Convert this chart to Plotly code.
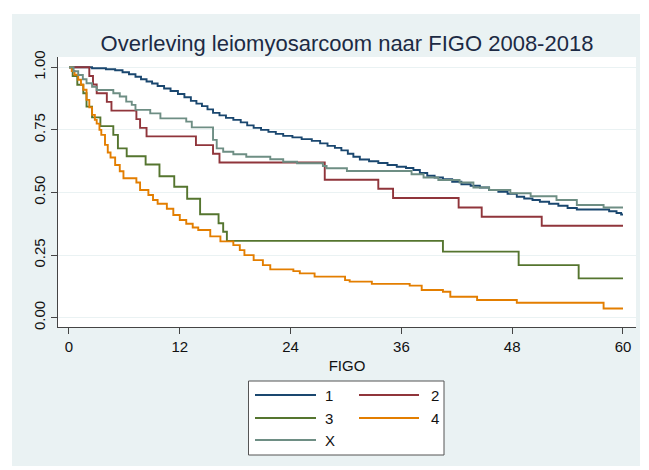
import plotly.graph_objects as go

# ---------------- data (Kaplan-Meier step curves) ----------------
groups = ["1", "2", "3", "4", "X"]
colors = ["#1a476f", "#90353b", "#55752f", "#e37e00", "#6e8e84"]

t_1 = [0, 2.5, 4.0, 5.0, 5.8, 6.5, 7.2, 7.8, 8.4, 9.0, 9.6, 10.3, 11.0, 11.8, 12.5, 13.2,
       13.8, 14.4, 15.0, 15.6, 16.3, 17.0, 17.8, 18.6, 19.3, 20.0, 20.8, 21.6, 22.4, 23.2,
       24.2, 25.2, 26.3, 27.2, 28.0, 28.8, 29.5, 30.2, 30.8, 31.5, 32.5, 33.5, 34.5, 35.5,
       36.5, 37.3, 38.0, 38.8, 39.6, 40.5, 41.5, 42.5, 43.5, 44.5, 45.5, 46.5, 47.5, 48.5,
       49.3, 50.2, 51.0, 52.0, 53.0, 54.0, 55.0, 58.5, 59.3, 59.8, 60]
s_1 = [1.0, 0.996, 0.992, 0.988, 0.980, 0.972, 0.962, 0.952, 0.943, 0.935, 0.925, 0.915,
       0.905, 0.893, 0.880, 0.866, 0.855, 0.845, 0.832, 0.818, 0.808, 0.798, 0.790, 0.780,
       0.768, 0.758, 0.750, 0.742, 0.734, 0.726, 0.720, 0.713, 0.706, 0.696, 0.686, 0.678,
       0.668, 0.655, 0.643, 0.632, 0.625, 0.618, 0.610, 0.603, 0.598, 0.590, 0.578, 0.567,
       0.560, 0.553, 0.543, 0.533, 0.527, 0.520, 0.510, 0.503, 0.495, 0.483, 0.476, 0.470,
       0.463, 0.455, 0.447, 0.438, 0.432, 0.425, 0.418, 0.412, 0.412]

t_2 = [0, 2.2, 2.6, 3.0, 4.1, 4.6, 7.3, 7.7, 8.4, 13.75, 15.6, 16.3, 27.7, 33.5, 35.1,
       42.2, 44.7, 51.2, 60]
s_2 = [1.0, 0.965, 0.931, 0.896, 0.862, 0.827, 0.793, 0.758, 0.724, 0.689, 0.655, 0.620,
       0.551, 0.515, 0.478, 0.440, 0.403, 0.367, 0.367]

t_3 = [0, 0.4, 0.9, 1.55, 1.9, 2.5, 3.4, 4.8, 5.3, 6.25, 8.3, 9.8, 11.4, 12.8, 14.2, 16.2,
       16.7, 17.1, 40.5, 48.7, 55.2, 60]
s_3 = [1.0, 0.965, 0.930, 0.896, 0.843, 0.800, 0.765, 0.730, 0.676, 0.645, 0.612, 0.565,
       0.523, 0.475, 0.413, 0.377, 0.343, 0.307, 0.264, 0.210, 0.157, 0.157]

t_4 = [0, 0.3, 0.6, 1.0, 1.3, 1.55, 1.9, 2.2, 2.5, 2.8, 3.0, 3.3, 3.5, 3.9, 4.2, 4.5, 5.0,
       5.5, 5.9, 7.3, 7.7, 8.6, 9.1, 9.6, 10.6, 11.3, 12.0, 12.7, 13.4, 14.0, 15.3, 16.4,
       17.8, 18.5, 19.0, 20.0, 21.0, 21.8, 24.3, 25.0, 26.6, 29.9, 30.4, 32.8, 36.9, 38.2,
       40.5, 41.3, 44.2, 48.5, 57.9, 60]
s_4 = [1.0, 0.985, 0.970, 0.950, 0.930, 0.910, 0.870, 0.840, 0.810, 0.790, 0.775, 0.750,
       0.730, 0.690, 0.660, 0.640, 0.610, 0.585, 0.557, 0.540, 0.510, 0.490, 0.470, 0.455,
       0.435, 0.410, 0.390, 0.375, 0.360, 0.350, 0.325, 0.305, 0.290, 0.270, 0.250, 0.230,
       0.210, 0.193, 0.186, 0.177, 0.164, 0.150, 0.144, 0.135, 0.128, 0.111, 0.104, 0.084,
       0.071, 0.060, 0.037, 0.037]

t_X = [0, 0.5, 1.0, 1.5, 1.9, 2.5, 3.0, 4.8, 5.5, 6.2, 6.8, 7.2, 8.8, 9.9, 12.7, 13.3,
       15.6, 16.0, 16.7, 17.8, 19.2, 21.8, 23.2, 24.7, 27.5, 27.9, 30.1, 37.1, 38.4, 40.0,
       42.3, 43.8, 45.5, 47.8, 50.0, 52.8, 55.0, 57.9, 60]
s_X = [1.0, 0.984, 0.969, 0.952, 0.936, 0.922, 0.909, 0.896, 0.883, 0.863, 0.850, 0.830,
       0.816, 0.796, 0.783, 0.760, 0.710, 0.676, 0.663, 0.653, 0.643, 0.633, 0.623, 0.617,
       0.606, 0.597, 0.586, 0.573, 0.560, 0.550, 0.540, 0.520, 0.510, 0.497, 0.485, 0.470,
       0.450, 0.440, 0.440]

x_ticks = [0, 12, 24, 36, 48, 60]
y_ticks = [0.0, 0.25, 0.5, 0.75, 1.0]

title_text = "Overleving leiomyosarcoom naar FIGO 2008-2018"
x_title = "FIGO"

series_t = [t_1, t_2, t_3, t_4, t_X]
series_s = [s_1, s_2, s_3, s_4, s_X]

# ---------------- figure ----------------
W, H = 649, 470
ML, MR, MT, MB = 58, 13, 57, 143
PW, PH = W - ML - MR, H - MT - MB

def px_x(p):
    return (p - ML) / PW

def px_y(p):
    return (H - MB - p) / PH

BG = "#eaf2f3"
FONT = "Liberation Sans, Arial, sans-serif"
LW = 1.9

fig = go.Figure()
for name, col, tt, ss in zip(groups, colors, series_t, series_s):
    fig.add_trace(go.Scatter(x=tt, y=ss, mode="lines", name=name,
                             line=dict(color=col, width=LW, shape="hv"),
                             showlegend=False, hoverinfo="skip"))

shapes = [
    # grey outer panel
    dict(type="rect", xref="paper", yref="paper", layer="below",
         x0=px_x(12), x1=px_x(640), y0=px_y(466), y1=px_y(14),
         fillcolor=BG, line=dict(width=0)),
    # white plot region
    dict(type="rect", xref="paper", yref="paper", layer="below",
         x0=0, x1=1, y0=0, y1=1, fillcolor="white", line=dict(width=0)),
    # legend box
    dict(type="rect", xref="paper", yref="paper",
         x0=px_x(248.5), x1=px_x(444), y0=px_y(455), y1=px_y(381),
         fillcolor="white", line=dict(color="#555555", width=1)),
]
annotations = []
# legend layout: 2 columns
leg_pos = [(0, 0), (1, 0), (0, 1), (1, 1), (0, 2)]
col_x = [(255, 316, 323), (359, 419, 429)]
row_y = [395, 418, 440]
for (c, r), name, col in zip(leg_pos, groups, colors):
    x0, x1, xt = col_x[c]
    y = row_y[r]
    shapes.append(dict(type="line", xref="paper", yref="paper",
                       x0=px_x(x0), x1=px_x(x1), y0=px_y(y), y1=px_y(y),
                       line=dict(color=col, width=LW)))
    annotations.append(dict(xref="paper", yref="paper", x=px_x(xt), y=px_y(y),
                            text=name, showarrow=False, xanchor="left", yanchor="middle",
                            font=dict(family=FONT, size=15, color="#111111")))

fig.update_layout(
    width=W, height=H,
    margin=dict(l=ML, r=MR, t=MT, b=MB, pad=0),
    paper_bgcolor="white", plot_bgcolor="white",
    title=dict(text=title_text, x=0.5, xref="paper", xanchor="center",
               y=1 - 43 / H, yref="container", yanchor="middle",
               font=dict(family=FONT, size=22, color="#1c2a44")),
    shapes=shapes, annotations=annotations,
    showlegend=False,
    xaxis=dict(range=[-1.19, 61.41], tickvals=x_ticks, ticktext=[str(v) for v in x_ticks],
               showgrid=False, zeroline=False, showline=True, linecolor="#444444", linewidth=1,
               ticks="outside", ticklen=6, tickcolor="#444444", tickwidth=1,
               tickfont=dict(family=FONT, size=15, color="#111111"),
               title=dict(text=x_title, font=dict(family=FONT, size=15, color="#111111"),
                          standoff=6)),
    yaxis=dict(range=[-0.037, 1.041], tickvals=y_ticks, tickformat=".2f",
               showgrid=True, gridcolor=BG, gridwidth=1, zeroline=False,
               showline=True, linecolor="#444444", linewidth=1,
               ticks="outside", ticklen=6, tickcolor="#444444", tickwidth=1,
               tickangle=-90,
               tickfont=dict(family=FONT, size=15, color="#111111")),
)

fig.write_html("out.html")
